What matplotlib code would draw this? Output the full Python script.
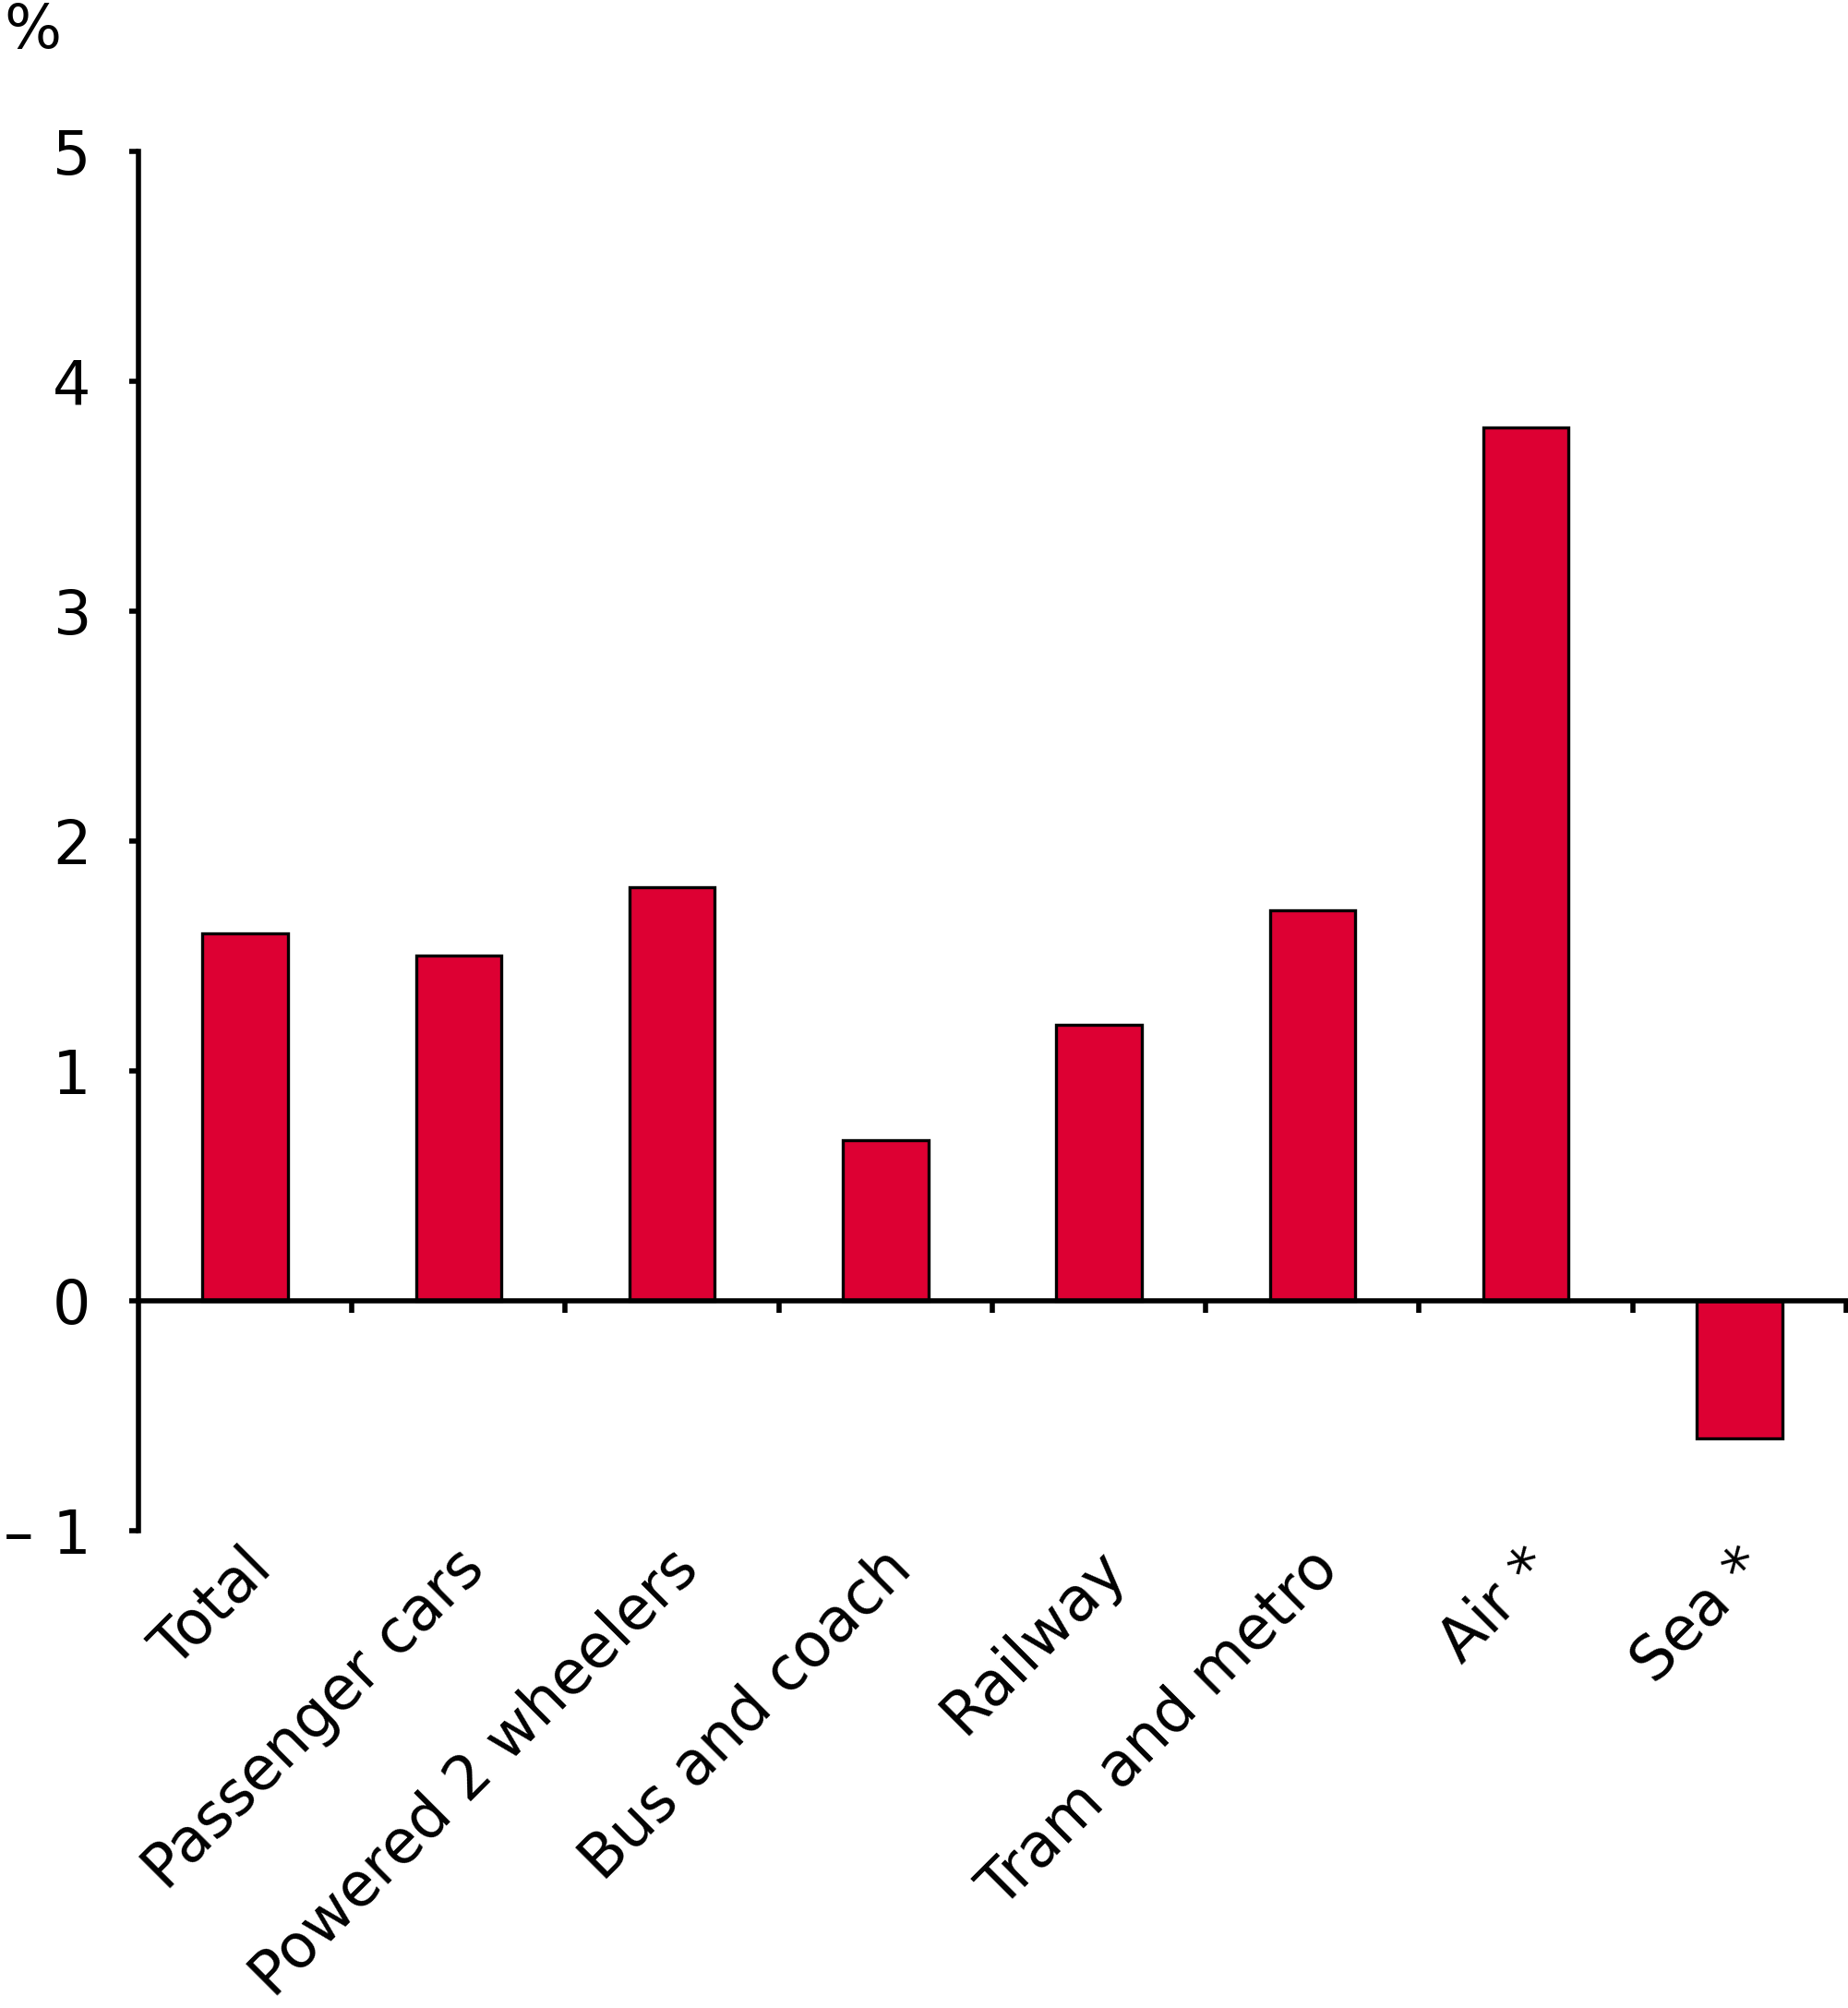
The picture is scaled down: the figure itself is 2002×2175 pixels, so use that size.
import matplotlib
matplotlib.use("Agg")
import matplotlib.pyplot as plt
import numpy as np

categories = ["Total", "Passenger cars", "Powered 2 wheelers", "Bus and coach",
              "Railway", "Tram and metro", "Air *", "Sea *"]
values = [1.6, 1.5, 1.8, 0.7, 1.2, 1.7, 3.8, -0.6]
yticks = [-1, 0, 1, 2, 3, 4, 5]
yticklabels = ["\u2013 1", "0", "1", "2", "3", "4", "5"]
unit_label = "%"

plt.rcParams["font.family"] = ["DejaVu Sans"]
FS = 47

fig = plt.figure(figsize=(20.02, 21.75), dpi=100)
ax = fig.add_axes([0.0749, 0.2377, 0.9241, 0.6869])

x = np.arange(len(categories))
ax.bar(x, values, width=0.4, color="#DD0033", edgecolor="black", linewidth=2.4, zorder=2)

ax.set_xlim(-0.5, len(categories) - 0.5)
ax.set_ylim(-1, 5)

for s in ["top", "right"]:
    ax.spines[s].set_visible(False)
ax.spines["left"].set_linewidth(4)
ax.spines["bottom"].set_linewidth(4)
ax.spines["bottom"].set_position(("data", 0))
ax.spines["bottom"].set_zorder(3)

ax.set_yticks(yticks)
ax.set_yticklabels(yticklabels)
ax.tick_params(axis="y", direction="out", length=7, width=4, pad=30, labelsize=FS)

ax.set_xticks(np.arange(len(categories)) + 0.5)
ax.set_xticklabels([])
ax.tick_params(axis="x", direction="out", length=9, width=4)

for i, lab in enumerate(categories):
    ax.annotate(lab, xy=(i, -1), xycoords="data", xytext=(-3, -6),
                textcoords="offset points", rotation=45, ha="right", va="top",
                rotation_mode="anchor", fontsize=FS)

fig.text(0.002, 0.999, unit_label, fontsize=FS, ha="left", va="top")

fig.savefig("out.png", dpi=100, facecolor="white")
